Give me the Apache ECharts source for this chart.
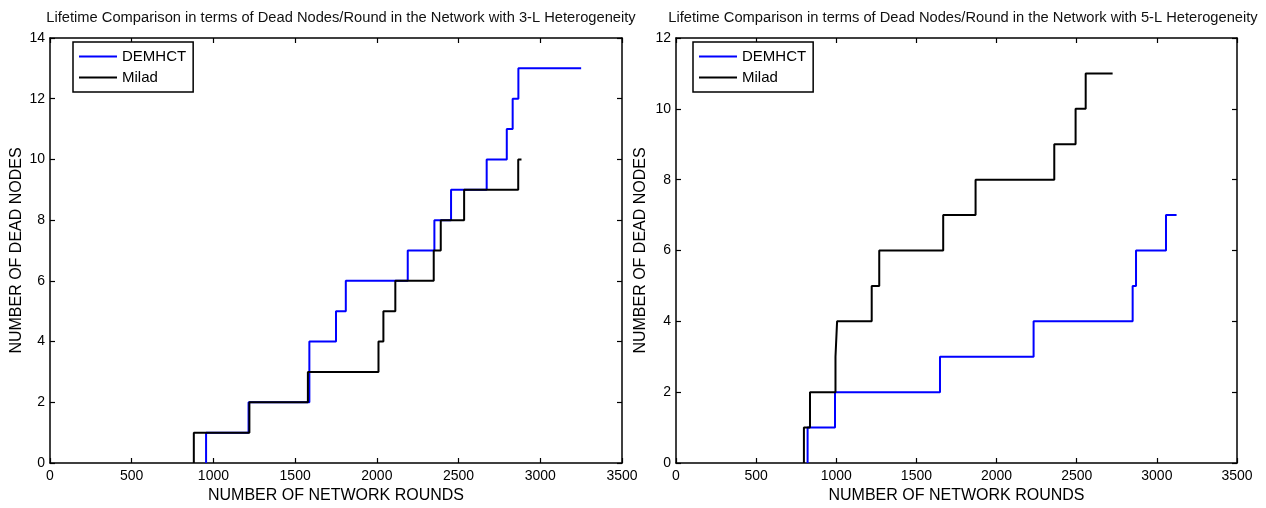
<!DOCTYPE html>
<html>
<head>
    <meta charset="utf-8">
    <title>Lifetime Comparison</title>
    <script src="https://cdn.jsdelivr.net/npm/echarts@6/dist/echarts.min.js"></script>
</head>
<body style="margin:0;background:#fff;">
    <div id="main" style="width: 1266px;height:508px;"></div>

    <script type="text/javascript">
        // 3-L heterogeneity (left chart): rounds where the dead-node count changes
        var demhct3Rounds = [955, 955, 1215, 1587, 1587, 1750, 1810, 2189, 2352, 2454, 2672, 2795, 2831, 2866, 3250];
        var demhct3Dead   = [0, 1, 2, 3, 4, 5, 6, 7, 8, 9, 10, 11, 12, 13, 13];
        var milad3Rounds  = [880, 880, 1220, 1578, 2010, 2040, 2113, 2348, 2391, 2534, 2865, 2885];
        var milad3Dead    = [0, 1, 2, 3, 4, 5, 6, 7, 8, 9, 10, 10];

        // 5-L heterogeneity (right chart)
        var demhct5Rounds = [821, 821, 992, 1647, 2231, 2849, 2870, 3057, 3123];
        var demhct5Dead   = [0, 1, 2, 3, 4, 5, 6, 7, 7];
        var milad5Rounds  = [798, 798, 836, 995, 1005, 1221, 1268, 1667, 1869, 2360, 2493, 2556, 2724];
        var milad5Dead    = [0, 1, 2, 3, 4, 5, 6, 7, 8, 9, 10, 11, 11];

        var seriesNames = ['DEMHCT', 'Milad'];
        var titles = [
            'Lifetime Comparison in terms of Dead Nodes/Round in the Network with 3-L Heterogeneity',
            'Lifetime Comparison in terms of Dead Nodes/Round in the Network with 5-L Heterogeneity'
        ];
        var xName = 'NUMBER OF NETWORK ROUNDS';
        var yName = 'NUMBER OF DEAD NODES';

        function pairs(xs, ys) {
            var out = [];
            for (var i = 0; i < xs.length; i++) {
                out.push([xs[i], ys[i]]);
            }
            return out;
        }

        var font = 'Liberation Sans, Arial, sans-serif';
        var black = '#000';

        // bottom/left axes carry the labels, top/right ones only draw the box ticks
        function xAx(grid, top) {
            return {
                type: 'value', gridIndex: grid, position: top ? 'top' : 'bottom',
                min: 0, max: 3500, interval: 500,
                name: top ? '' : xName, nameLocation: 'middle', nameGap: 25,
                nameTextStyle: { color: black, fontSize: 16, fontFamily: font },
                axisLine: { show: true, onZero: false, lineStyle: { color: black, width: 1.5 } },
                axisTick: { show: true, inside: true, length: 5, lineStyle: { color: black, width: 1.2 } },
                axisLabel: { show: !top, margin: 6, color: black, fontSize: 14, fontFamily: font,
                             formatter: function (v) { return String(v); } },
                splitLine: { show: false }
            };
        }

        function yAx(grid, right, max, gap) {
            return {
                type: 'value', gridIndex: grid, position: right ? 'right' : 'left',
                min: 0, max: max, interval: 2,
                name: right ? '' : yName, nameLocation: 'middle', nameGap: gap,
                nameTextStyle: { color: black, fontSize: 16, fontFamily: font },
                axisLine: { show: true, onZero: false, lineStyle: { color: black, width: 1.5 } },
                axisTick: { show: true, inside: true, length: 5, lineStyle: { color: black, width: 1.2 } },
                axisLabel: { show: !right, margin: 5, color: black, fontSize: 14, fontFamily: font },
                splitLine: { show: false }
            };
        }

        function legendAt(left) {
            return {
                left: left, top: 42, orient: 'vertical',
                data: seriesNames,
                icon: 'rect', itemWidth: 38, itemHeight: 2, itemGap: 6,
                padding: [7, 7, 7, 6],
                borderColor: black, borderWidth: 1.5, backgroundColor: '#fff',
                selectedMode: false,
                textStyle: { color: black, fontSize: 15, fontFamily: font, lineHeight: 15 }
            };
        }

        function line(name, color, data, grid) {
            return {
                name: name, type: 'line', step: 'end', data: data,
                xAxisIndex: grid * 2, yAxisIndex: grid * 2,
                showSymbol: false, animation: false,
                lineStyle: { color: color, width: 2 },
                itemStyle: { color: color }
            };
        }

        var myChart = echarts.init(document.getElementById('main'));

        var option = {
            backgroundColor: '#fff',
            animation: false,
            title: [
                { text: titles[0], left: 336, top: 5, textAlign: 'center',
                  textStyle: { color: '#111', fontSize: 14.7, fontWeight: 'normal', fontFamily: font } },
                { text: titles[1], left: 958, top: 5, textAlign: 'center',
                  textStyle: { color: '#111', fontSize: 14.7, fontWeight: 'normal', fontFamily: font } }
            ],
            legend: [legendAt(73), legendAt(693)],
            grid: [
                { left: 50, right: 644, top: 38, bottom: 45, outerBoundsMode: 'none', containLabel: false },
                { left: 676, right: 29, top: 38, bottom: 45, outerBoundsMode: 'none', containLabel: false }
            ],
            xAxis: [xAx(0, false), xAx(0, true), xAx(1, false), xAx(1, true)],
            yAxis: [yAx(0, false, 14, 25), yAx(0, true, 14, 0), yAx(1, false, 12, 27), yAx(1, true, 12, 0)],
            series: [
                line('DEMHCT', '#0000ff', pairs(demhct3Rounds, demhct3Dead), 0),
                line('Milad', '#000000', pairs(milad3Rounds, milad3Dead), 0),
                line('DEMHCT', '#0000ff', pairs(demhct5Rounds, demhct5Dead), 1),
                line('Milad', '#000000', pairs(milad5Rounds, milad5Dead), 1)
            ]
        };

        myChart.setOption(option);
    </script>
</body>
</html>
